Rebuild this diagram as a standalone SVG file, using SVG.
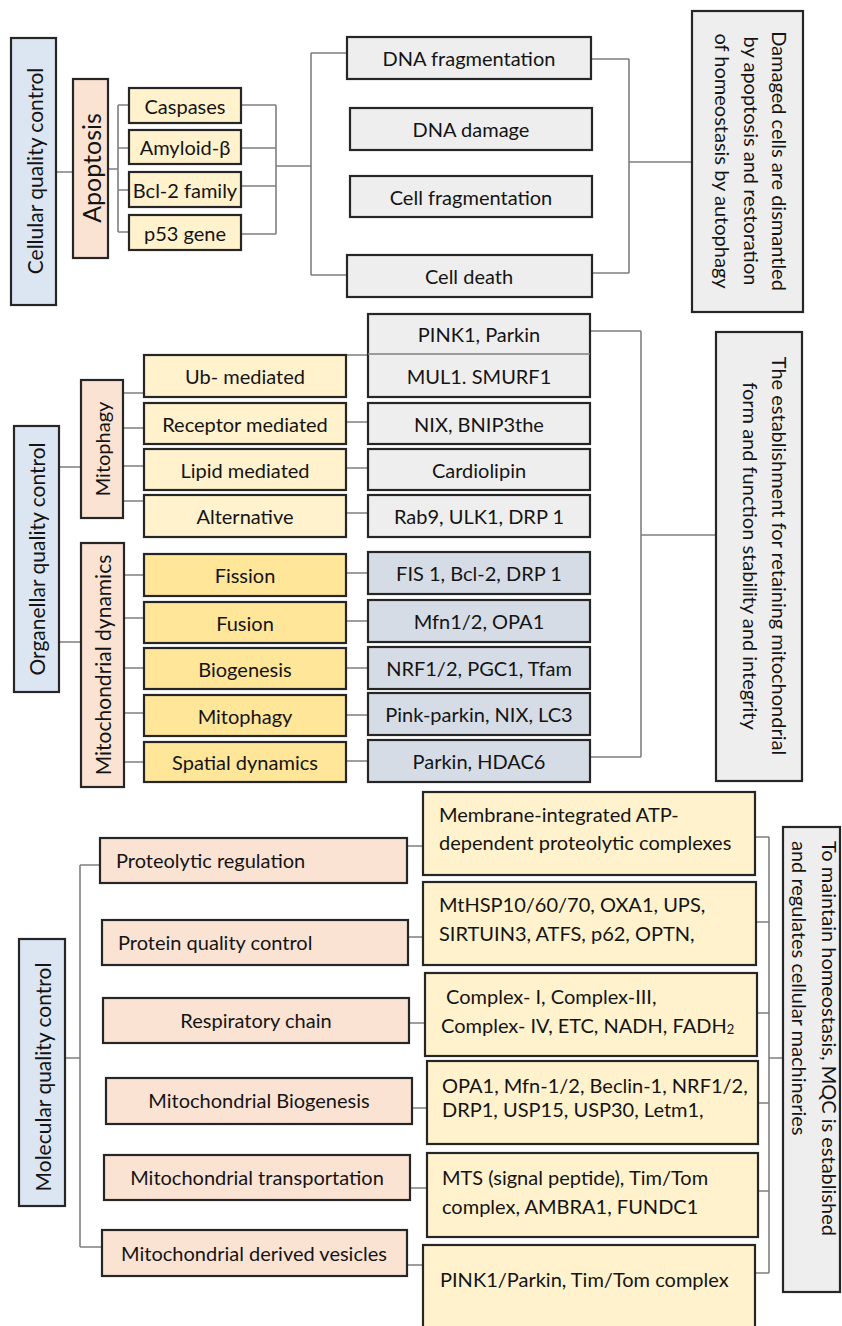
<svg xmlns="http://www.w3.org/2000/svg" width="842" height="1326" viewBox="0 0 842 1326">
<style>
.bx{stroke:#262626;stroke-width:2.2}
.blue{fill:#dce6f2}
.peach{fill:#fbe3d4}
.ly{fill:#fff2cc}
.gold{fill:#ffe699}
.grey{fill:#eeeeee}
.bg{fill:#d6dce6}
text{font-family:Lato,"Liberation Sans",sans-serif;font-size:20px;fill:#141414;dominant-baseline:central}
.m{text-anchor:middle}
.s{text-anchor:start}
.v{font-size:21px}
.c{stroke:#7f7f7f;stroke-width:1.6;fill:none}
</style>
<rect width="842" height="1326" fill="#ffffff"/>
<g id="connectors" class="c">
<path d="M56 172H73M108 169H118M118 105V232M118 105H129M118 148H129M118 190H129M118 232H129"/>
<path d="M241 105H276M241 148H276M241 186H276M241 234H276M276 105V234M276 166H311M311 53V275M311 53H347M311 275H347"/>
<path d="M591 59H629M592 273H629M629 59V273M629 162H692"/>
<path d="M59 467H81M59 642H81"/>
<path d="M123 393H144M123 428H144M123 466H144M123 501H144"/>
<path d="M124 575H144M124 618H144M124 668H144M124 713H144M124 762H144"/>
<path d="M346 355H368M346 422H368M346 468H368M346 513H368M346 573H368M346 621H368M346 668H368M346 715H368M346 761H368"/>
<path d="M590 331H641M590 757H641M641 331V757M641 535H716"/>
<path d="M65 1058H80M80 865V1247M80 865H100M80 1247H102"/>
<path d="M407 846H423M408 937H423M409 1023H425M412 1108H427M410 1188H427M407 1265H423"/>
<path d="M755 837H769M756 922H769M757 1013H769M758 1103H769M758 1191H769M755 1273H769M769 837V1273M769 1058H783"/>
</g>
<g id="cellular-qc"><rect class="bx blue" x="11" y="38" width="45" height="267"/><text class="m v" transform="translate(34,171) rotate(-90)">Cellular quality control</text></g>
<g id="apoptosis"><rect class="bx peach" x="73" y="79" width="35" height="179"/><text class="m" style="font-size:25px" transform="translate(91,168) rotate(-90)">Apoptosis</text></g>
<g id="caspases"><rect class="bx ly" x="129" y="88" width="112" height="35"/><text class="m" x="185" y="105.5">Caspases</text></g>
<g id="amyloid"><rect class="bx ly" x="129" y="130" width="112" height="34"/><text class="m" x="185" y="147">Amyloid-β</text></g>
<g id="bcl2"><rect class="bx ly" x="129" y="172" width="112" height="35"/><text class="m" x="185" y="189.5">Bcl-2 family</text></g>
<g id="p53"><rect class="bx ly" x="129" y="215" width="112" height="35"/><text class="m" x="185" y="232.5">p53 gene</text></g>
<g id="dna-frag"><rect class="bx grey" x="347" y="37" width="244" height="42"/><text class="m" x="469" y="58">DNA fragmentation</text></g>
<g id="dna-damage"><rect class="bx grey" x="350" y="108" width="242" height="42"/><text class="m" x="471" y="129">DNA damage</text></g>
<g id="cell-frag"><rect class="bx grey" x="350" y="176" width="242" height="41"/><text class="m" x="471" y="196.5">Cell fragmentation</text></g>
<g id="cell-death"><rect class="bx grey" x="347" y="255" width="245" height="42"/><text class="m" x="469" y="276">Cell death</text></g>
<g id="damaged"><rect class="bx grey" x="692" y="11" width="111" height="301"/>
<text class="m" transform="translate(780,161) rotate(90)">Damaged cells are dismantled</text>
<text class="m" transform="translate(752,161) rotate(90)">by apoptosis and restoration</text>
<text class="m" transform="translate(723,161) rotate(90)">of homeostasis by autophagy</text></g>

<g id="organellar-qc"><rect class="bx blue" x="14" y="426" width="45" height="266"/><text class="m v" transform="translate(36.5,559) rotate(-90)">Organellar quality control</text></g>
<g id="mitophagy"><rect class="bx peach" x="81" y="380" width="42" height="138"/><text class="m" transform="translate(102,449) rotate(-90)">Mitophagy</text></g>
<g id="mito-dynamics"><rect class="bx peach" x="81" y="543" width="43" height="244"/><text class="m v" transform="translate(102.5,665) rotate(-90)">Mitochondrial dynamics</text></g>
<g id="ub"><rect class="bx ly" x="144" y="355" width="202" height="42"/><text class="m" x="245" y="376">Ub- mediated</text></g>
<g id="receptor"><rect class="bx ly" x="144" y="403" width="202" height="41"/><text class="m" x="245" y="423.5">Receptor mediated</text></g>
<g id="lipid"><rect class="bx ly" x="144" y="449" width="202" height="41"/><text class="m" x="245" y="469.5">Lipid mediated</text></g>
<g id="alternative"><rect class="bx ly" x="144" y="495" width="202" height="42"/><text class="m" x="245" y="516">Alternative</text></g>
<g id="fission"><rect class="bx gold" x="144" y="554" width="202" height="42"/><text class="m" x="245" y="575">Fission</text></g>
<g id="fusion"><rect class="bx gold" x="144" y="602" width="202" height="41"/><text class="m" x="245" y="622.5">Fusion</text></g>
<g id="biogenesis"><rect class="bx gold" x="144" y="648" width="202" height="41"/><text class="m" x="245" y="668.5">Biogenesis</text></g>
<g id="mitophagy2"><rect class="bx gold" x="144" y="695" width="202" height="41"/><text class="m" x="245" y="715.5">Mitophagy</text></g>
<g id="spatial"><rect class="bx gold" x="144" y="742" width="202" height="40"/><text class="m" x="245" y="762">Spatial dynamics</text></g>
<g id="pink1-mul1"><rect class="bx grey" x="368" y="314" width="222" height="83"/><line x1="368" y1="354" x2="590" y2="354" stroke="#7f7f7f" stroke-width="1.4"/><text class="m" x="479" y="334">PINK1, Parkin</text><text class="m" x="479" y="375.5">MUL1. SMURF1</text></g>
<g id="nix"><rect class="bx grey" x="368" y="403" width="222" height="41"/><text class="m" x="479" y="423.5">NIX, BNIP3the</text></g>
<g id="cardiolipin"><rect class="bx grey" x="368" y="449" width="222" height="41"/><text class="m" x="479" y="469.5">Cardiolipin</text></g>
<g id="rab9"><rect class="bx grey" x="368" y="495" width="222" height="42"/><text class="m" x="479" y="516">Rab9, ULK1, DRP 1</text></g>
<g id="fis1"><rect class="bx bg" x="368" y="552" width="222" height="42"/><text class="m" x="479" y="573">FIS 1, Bcl-2, DRP 1</text></g>
<g id="mfn"><rect class="bx bg" x="368" y="600" width="222" height="42"/><text class="m" x="479" y="621">Mfn1/2, OPA1</text></g>
<g id="nrf"><rect class="bx bg" x="368" y="647" width="222" height="42"/><text class="m" x="479" y="668">NRF1/2, PGC1, Tfam</text></g>
<g id="pink-parkin"><rect class="bx bg" x="368" y="693" width="222" height="42"/><text class="m" x="479" y="714">Pink-parkin, NIX, LC3</text></g>
<g id="parkin-hdac6"><rect class="bx bg" x="368" y="740" width="222" height="42"/><text class="m" x="479" y="761">Parkin, HDAC6</text></g>
<g id="establishment"><rect class="bx grey" x="716" y="332" width="86" height="449"/>
<text class="m" transform="translate(780,556) rotate(90)">The establishment for retaining mitochondrial</text>
<text class="m" transform="translate(751,556) rotate(90)">form and function stability and integrity</text></g>

<g id="molecular-qc"><rect class="bx blue" x="19" y="939" width="46" height="267"/><text class="m v" transform="translate(42,1077) rotate(-90)">Molecular quality control</text></g>
<g id="proteolytic"><rect class="bx peach" x="100" y="838" width="307" height="45"/><text class="s" x="116" y="860">Proteolytic regulation</text></g>
<g id="protein-qc"><rect class="bx peach" x="102" y="920" width="306" height="45"/><text class="s" x="118" y="942">Protein quality control</text></g>
<g id="respiratory"><rect class="bx peach" x="103" y="998" width="306" height="45"/><text class="m" x="256" y="1020">Respiratory chain</text></g>
<g id="mito-biogenesis"><rect class="bx peach" x="106" y="1078" width="306" height="46"/><text class="m" x="259" y="1100">Mitochondrial Biogenesis</text></g>
<g id="transport"><rect class="bx peach" x="104" y="1155" width="306" height="45"/><text class="m" x="257" y="1177">Mitochondrial transportation</text></g>
<g id="vesicles"><rect class="bx peach" x="102" y="1230" width="305" height="46"/><text class="m" x="254" y="1253">Mitochondrial derived vesicles</text></g>
<g id="membrane"><rect class="bx ly" x="423" y="792" width="332" height="83"/><text class="s" x="439" y="814">Membrane-integrated ATP-</text><text class="s" x="439" y="842">dependent proteolytic complexes</text></g>
<g id="mthsp"><rect class="bx ly" x="423" y="882" width="333" height="83"/><text class="s" x="439" y="904">MtHSP10/60/70, OXA1, UPS,</text><text class="s" x="439" y="933">SIRTUIN3, ATFS, p62, OPTN,</text></g>
<g id="complex"><rect class="bx ly" x="425" y="973" width="332" height="83"/><text class="s" x="446" y="996">Complex- I, Complex-III,</text><text class="s" x="441" y="1025">Complex- IV, ETC, NADH, FADH<tspan style="font-size:13px" dy="4">2</tspan></text></g>
<g id="opa1"><rect class="bx ly" x="427" y="1061" width="331" height="83"/><text class="s" x="442" y="1085">OPA1, Mfn-1/2, Beclin-1, NRF1/2,</text><text class="s" x="442" y="1109">DRP1, USP15, USP30, Letm1,</text></g>
<g id="mts"><rect class="bx ly" x="427" y="1153" width="331" height="84"/><text class="s" x="442" y="1177">MTS (signal peptide), Tim/Tom</text><text class="s" x="442" y="1206">complex, AMBRA1, FUNDC1</text></g>
<g id="pink1-parkin"><rect class="bx ly" x="423" y="1245" width="332" height="100"/><text class="s" x="440" y="1279">PINK1/Parkin, Tim/Tom complex</text></g>
<g id="mqc-purpose"><rect class="bx grey" x="783" y="827" width="57" height="465"/>
<text class="s" transform="translate(830,841) rotate(90)">To maintain homeostasis, MQC is established</text>
<text class="s" transform="translate(800,841) rotate(90)">and regulates cellular machineries</text></g>
</svg>
